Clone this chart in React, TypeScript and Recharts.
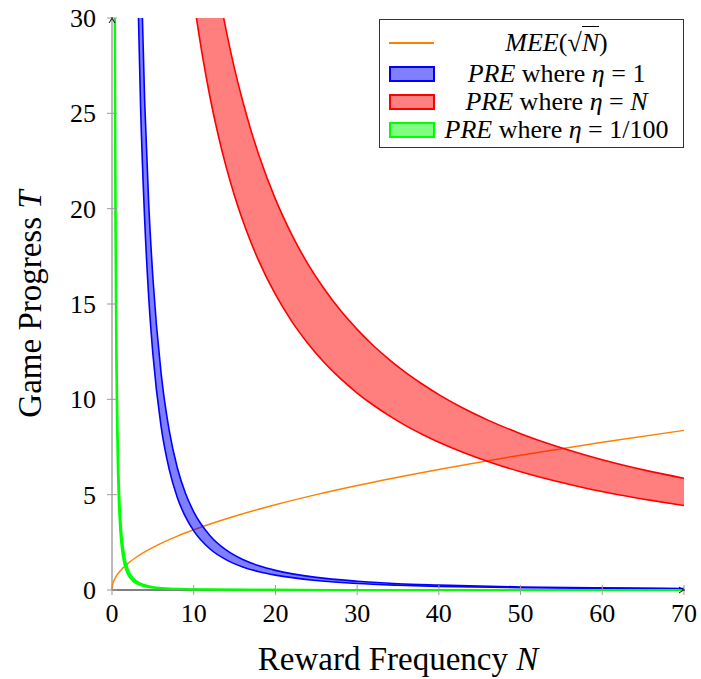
import React from "react";
import { ComposedChart, Line, Area, XAxis, YAxis, ReferenceDot } from "recharts";

const FONT = '"Liberation Serif", "Times New Roman", serif';

const xTicks = [0, 10, 20, 30, 40, 50, 60, 70];
const yTicks = [0, 5, 10, 15, 20, 25, 30];

// MEE(sqrt N)
const meeN = [0, 0.1, 0.25, 0.5, 1, 2, 3, 4, 6, 8, 10, 15, 20, 25, 30, 40, 50, 60, 70];
const meeT = [0, 0.32, 0.5, 0.71, 1, 1.41, 1.73, 2, 2.45, 2.83, 3.16, 3.87, 4.47, 5, 5.48, 6.32, 7.07, 7.75, 8.37];

// PRE, eta = 1 (band)
const blueN = [3, 3.5, 4, 4.5, 5, 6, 7, 8, 9, 10, 12, 14, 16, 18, 20, 25, 30, 35, 40, 50, 60, 70];
const blueLo = [34.4, 25.3, 19.4, 15.3, 12.4, 8.6, 6.33, 4.84, 3.83, 3.1, 2.15, 1.58, 1.21, 0.96, 0.78, 0.5, 0.34, 0.25, 0.19, 0.12, 0.09, 0.06];
const blueHi = [45.6, 33.5, 25.6, 20.2, 16.4, 11.4, 8.37, 6.4, 5.06, 4.1, 2.85, 2.09, 1.6, 1.27, 1.03, 0.66, 0.46, 0.33, 0.26, 0.16, 0.11, 0.08];

// PRE, eta = N (band)
const redN = [10, 10.5, 11, 11.5, 12, 13, 14, 15, 16, 17, 18, 20, 22, 24, 26, 28, 30, 32, 34, 36, 38, 40, 43, 46, 50, 54, 58, 62, 66, 70];
const redLo = [31, 29.52, 28.18, 26.96, 25.83, 23.85, 22.14, 20.67, 19.38, 18.24, 17.22, 15.5, 14.09, 12.92, 11.92, 11.07, 10.33, 9.69, 9.12, 8.61, 8.16, 7.75, 7.21, 6.74, 6.2, 5.74, 5.34, 5.0, 4.7, 4.43];
const redHi = [41, 39.05, 37.27, 35.65, 34.17, 31.54, 29.29, 27.33, 25.63, 24.12, 22.78, 20.5, 18.64, 17.08, 15.77, 14.64, 13.67, 12.81, 12.06, 11.39, 10.79, 10.25, 9.53, 8.91, 8.2, 7.59, 7.07, 6.61, 6.21, 5.86];

// PRE, eta = 1/100 (band)
const greenN = [0.3, 0.35, 0.4, 0.5, 0.6, 0.7, 0.8, 1, 1.2, 1.5, 2, 2.5, 3, 4, 5, 6, 8, 10, 15, 20, 30, 40, 50, 60, 70];
const greenLo = [34.4, 25.3, 19.4, 12.4, 8.6, 6.33, 4.84, 3.1, 2.15, 1.38, 0.78, 0.5, 0.34, 0.19, 0.12, 0.09, 0.05, 0.03, 0.01, 0.01, 0, 0, 0, 0, 0];
const greenHi = [45.6, 33.5, 25.6, 16.4, 11.4, 8.37, 6.4, 4.1, 2.85, 1.82, 1.03, 0.66, 0.46, 0.26, 0.16, 0.11, 0.06, 0.04, 0.02, 0.01, 0, 0, 0, 0, 0];

const W = 701;
const H = 679;
const PLOT_TOP = 18;
const PLOT_H = 572;

function buildRows() {
  const ns = Array.from(new Set([...meeN, ...blueN, ...redN, ...greenN])).sort((a, b) => a - b);
  return ns.map((n) => {
    const row: any = { n, blue: [null, null], red: [null, null], green: [null, null] };
    const m = meeN.indexOf(n);
    if (m >= 0) row.mee = meeT[m];
    const b = blueN.indexOf(n);
    if (b >= 0) row.blue = [blueLo[b], blueHi[b]];
    const r = redN.indexOf(n);
    if (r >= 0) row.red = [redLo[r], redHi[r]];
    const g = greenN.indexOf(n);
    if (g >= 0) row.green = [greenLo[g], greenHi[g]];
    return row;
  });
}

const rows = buildRows();

function XTick({ x, y, payload }: any) {
  return (
    <g>
      <line x1={x} x2={x} y1={y - 5} y2={y + 5} stroke="#999" />
      <text x={x} y={y + 13} dy="0.72em" textAnchor="middle" style={{ fontFamily: FONT, fontSize: 26 }} fill="#000">
        {payload.value}
      </text>
    </g>
  );
}

function YTick({ x, y, payload }: any) {
  return (
    <g>
      <line x1={x - 5} x2={x + 5} y1={y} y2={y} stroke="#999" />
      <text x={x - 16} y={y} dy="0.35em" textAnchor="end" style={{ fontFamily: FONT, fontSize: 26 }} fill="#000">
        {payload.value}
      </text>
    </g>
  );
}

function XTitle(props: any) {
  const vb = props.viewBox || { x: 112, y: 590, width: 572 };
  return (
    <text x={vb.x + vb.width / 2} y={vb.y + 80} textAnchor="middle" style={{ fontFamily: FONT, fontSize: 33 }} fill="#000">
      Reward Frequency <tspan fontStyle="italic">N</tspan>
    </text>
  );
}

function YTitle(props: any) {
  const vb = props.viewBox || { x: 0, y: 18, height: 572 };
  const cx = 41;
  const cy = vb.y + vb.height / 2;
  return (
    <text x={cx} y={cy} transform={`rotate(-90, ${cx}, ${cy})`} textAnchor="middle" style={{ fontFamily: FONT, fontSize: 33 }} fill="#000">
      Game Progress <tspan fontStyle="italic">T</tspan>
    </text>
  );
}

function UpArrow({ cx, cy }: any) {
  return (
    <path
      d={`M ${cx - 3} ${cy + 5} Q ${cx - 0.5} ${cy + 2} ${cx} ${cy - 1} Q ${cx + 0.5} ${cy + 2} ${cx + 3} ${cy + 5}`}
      stroke="#000"
      strokeWidth={1}
      fill="none"
    />
  );
}

function RightArrow({ cx, cy }: any) {
  return (
    <path
      d={`M ${cx - 5} ${cy - 3} Q ${cx - 2} ${cy - 0.5} ${cx + 1} ${cy} Q ${cx - 2} ${cy + 0.5} ${cx - 5} ${cy + 3}`}
      stroke="#000"
      strokeWidth={1}
      fill="none"
    />
  );
}

const legendItems = [
  { kind: "line", color: "#ff8000", fill: "" },
  { kind: "box", color: "#0000ff", fill: "#8080ff" },
  { kind: "box", color: "#ff0000", fill: "#ff8080" },
  { kind: "box", color: "#00ff00", fill: "#80ff80" },
];

const legendRowCenters = [23, 54, 82, 110];

function LegendLabel({ index }: { index: number }) {
  if (index === 0) {
    return (
      <span>
        <i>MEE</i>(√<span style={{ borderTop: "1px solid #000", paddingTop: 1 }}><i>N</i></span>)
      </span>
    );
  }
  const eta = index === 1 ? "1" : index === 2 ? <i>N</i> : "1/100";
  return (
    <span>
      <i>PRE</i> where <i>η</i> = {eta}
    </span>
  );
}

function ChartLegend() {
  return (
    <div
      style={{
        position: "absolute",
        left: 379,
        top: 19,
        width: 305,
        height: 129,
        border: "1px solid #333",
        background: "#fff",
        boxSizing: "border-box",
        fontFamily: FONT,
        fontSize: 26,
        color: "#000",
      }}
    >
      {legendItems.map((it, i) => (
        <div
          key={i}
          style={{ position: "absolute", left: 0, top: legendRowCenters[i] - 16, width: 303, height: 32 }}
        >
          {it.kind === "line" ? (
            <div style={{ position: "absolute", left: 9, top: 15, width: 45, height: 2, background: it.color }} />
          ) : (
            <div
              style={{
                position: "absolute",
                left: 9,
                top: 8,
                width: 46,
                height: 16,
                background: it.fill,
                border: `2px solid ${it.color}`,
                boxSizing: "border-box",
              }}
            />
          )}
          <div
            style={{
              position: "absolute",
              left: 55,
              width: 243,
              top: 0,
              height: 32,
              lineHeight: "32px",
              textAlign: "center",
              whiteSpace: "nowrap",
            }}
          >
            <LegendLabel index={i} />
          </div>
        </div>
      ))}
    </div>
  );
}

export default function App() {
  return (
    <div style={{ position: "absolute", left: 0, top: 0, width: W, height: H, overflow: "hidden" }}>
      {/* let strokes lying on y = 0 show below the plot edge, like the original */}
      <style>{`.recharts-surface clipPath rect { height: ${PLOT_H + 8}px; }`}</style>
      <ComposedChart width={W} height={H} data={rows} margin={{ top: PLOT_TOP, right: 17, left: 0, bottom: 0 }}>
        <XAxis
          type="number"
          dataKey="n"
          domain={[0, 70]}
          ticks={xTicks}
          interval={0}
          allowDataOverflow
          height={H - PLOT_TOP - PLOT_H}
          tickSize={0}
          tickMargin={0}
          tickLine={false}
          axisLine={{ stroke: "#000" }}
          tick={<XTick />}
          label={<XTitle />}
        />
        <YAxis
          type="number"
          domain={[0, 30]}
          ticks={yTicks}
          interval={0}
          allowDataOverflow
          width={112}
          tickSize={0}
          tickMargin={0}
          tickLine={false}
          axisLine={{ stroke: "#777" }}
          tick={<YTick />}
          label={<YTitle />}
        />
        <Line
          dataKey="mee"
          type="monotone"
          stroke="#ff8000"
          strokeWidth={1.4}
          dot={false}
          activeDot={false}
          connectNulls
          zIndex={600}
          isAnimationActive={false}
        />
        <Area
          dataKey="blue"
          type="monotone"
          stroke="#0000ff"
          strokeWidth={1.6}
          fill="#0000ff"
          fillOpacity={0.5}
          dot={false}
          activeDot={false}
          connectNulls
          zIndex={600}
          isAnimationActive={false}
        />
        <Area
          dataKey="red"
          type="monotone"
          stroke="#ff0000"
          strokeWidth={1.6}
          fill="#ff0000"
          fillOpacity={0.5}
          dot={false}
          activeDot={false}
          connectNulls
          zIndex={600}
          isAnimationActive={false}
        />
        <Area
          dataKey="green"
          type="monotone"
          stroke="#00ff00"
          strokeWidth={2}
          fill="#00ff00"
          fillOpacity={0.5}
          dot={false}
          activeDot={false}
          connectNulls
          zIndex={600}
          isAnimationActive={false}
        />
        <ReferenceDot x={0} y={30} r={0} ifOverflow="visible" shape={<UpArrow />} />
        <ReferenceDot x={70} y={0} r={0} ifOverflow="visible" shape={<RightArrow />} />
      </ComposedChart>
      <ChartLegend />
    </div>
  );
}
